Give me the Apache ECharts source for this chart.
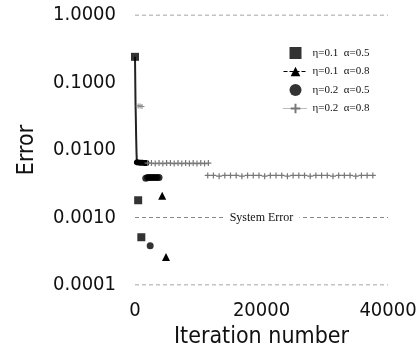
<!DOCTYPE html>
<html><head><meta charset="utf-8">
<script src="https://cdn.jsdelivr.net/npm/echarts@6/dist/echarts.min.js"></script>
<style>html,body{margin:0;padding:0;background:#fff}#c{width:420px;height:356px}</style>
</head><body><div id="c"></div>
<script>
// Tick labels
var xTicks = [0, 20000, 40000];
var yTicks = [1, 0.1, 0.01, 0.001, 0.0001];
var seriesNames = ['η=0.1  α=0.5', 'η=0.1  α=0.8', 'η=0.2  α=0.5', 'η=0.2  α=0.8'];
var systemError = 0.001;
var systemErrorLabel = 'System Error';
// horizontal reference lines (top / bottom frame)
var refLevels = [1, 0.0001];

// η=0.1 α=0.5 (squares) and its steep decay
var squareX = [0, 500, 1000];
var squareY = [0.24, 0.0018, 0.00051];
var decayX = [0, 40, 80, 130, 180, 240, 300];
var decayY = [0.24, 0.11, 0.05, 0.03, 0.016, 0.009, 0.0066];
// η=0.1 α=0.8 (triangles)
var triX = [4300, 4900];
var triY = [0.0021, 0.00026];
// η=0.2 α=0.5 (circles)
var circX = [1700, 2000, 2300, 2600, 2900, 3200, 3500, 3800, 2400];
var circY = [0.0038, 0.0039, 0.0039, 0.0039, 0.0039, 0.0039, 0.0039, 0.0039, 0.00038];
// dense dark run near 0.0065
var blobX = [300, 700, 1100, 1500, 1800];
var blobY = [0.0066, 0.0065, 0.0065, 0.0064, 0.0064];
// η=0.2 α=0.8 (plus markers)
var plus1X = [2000, 2600, 3200, 3800, 4400, 5000, 5600, 6200, 6800, 7400, 8000, 8600, 9200, 9800, 10400, 11000, 11600];
var plus1Y = [0.0064, 0.0064, 0.0063, 0.0064, 0.0063, 0.0064, 0.0064, 0.0063, 0.0064, 0.0063, 0.0064, 0.0063, 0.0064, 0.0063, 0.0064, 0.0063, 0.0064];
var plus2X = [11500, 12400, 13300, 14200, 15100, 16000, 16900, 17800, 18700, 19600, 20500, 21400, 22300, 23200, 24100, 25000, 25900, 26800, 27700, 28600, 29500, 30400, 31300, 32200, 33100, 34000, 34900, 35800, 36700, 37600];
var plus2Y = [0.0042, 0.0042, 0.0041, 0.0042, 0.0042, 0.0042, 0.0041, 0.0042, 0.0042, 0.0042, 0.0041, 0.0042, 0.0042, 0.0042, 0.0041, 0.0042, 0.0042, 0.0042, 0.0041, 0.0042, 0.0042, 0.0042, 0.0041, 0.0042, 0.0042, 0.0042, 0.0041, 0.0042, 0.0042, 0.0042];
var plus3X = [500, 800, 1100];
var plus3Y = [0.045, 0.045, 0.044];

function pairs(xs, ys) { return xs.map(function (x, i) { return [x, ys[i]]; }); }
var plusPath = 'path://M4,0h2v4h4v2h-4v4h-2v-4h-4v-2h4z';
var squarePath = 'path://M0,0h10v10h-10z';
var narrow = '"DejaVu Sans Condensed", "Liberation Sans Narrow", "Liberation Sans", sans-serif';
var serif = '"Liberation Serif", "DejaVu Serif", serif';
var dash = { color: '#888', type: [4, 3], width: 1 };

var refSeries = refLevels.map(function (lv) {
  return { name: 'ref' + lv, type: 'line', symbol: 'none', silent: true,
    data: [[xTicks[0], lv], [xTicks[2], lv]], lineStyle: dash, z: 1 };
});

var chart = echarts.init(document.getElementById('c'));
chart.setOption({
  animation: false,
  backgroundColor: '#fff',
  grid: { left: 135, right: 32, top: 15, bottom: 71 },
  legend: {
    orient: 'vertical', left: 278, top: 42, itemGap: 7, itemWidth: 24, itemHeight: 12,
    symbolKeepAspect: true,
    textStyle: { fontFamily: serif, fontSize: 11, color: '#111' },
    data: [
      { name: seriesNames[0], icon: squarePath },
      { name: seriesNames[1], lineStyle: { width: 1, type: 'dashed', color: '#000' } },
      { name: seriesNames[2], icon: 'circle' },
      { name: seriesNames[3], lineStyle: { width: 1, type: 'dotted', color: '#777' } }
    ]
  },
  xAxis: {
    type: 'value', min: xTicks[0], max: xTicks[2], interval: xTicks[1] - xTicks[0],
    name: 'Iteration number', nameLocation: 'middle', nameGap: 38,
    nameTextStyle: { fontFamily: narrow, fontSize: 23, color: '#111' },
    axisLine: { show: false }, axisTick: { show: false }, splitLine: { show: false },
    axisLabel: { margin: 16, fontFamily: narrow, fontSize: 20, color: '#111',
      formatter: function (v) { return String(v); } }
  },
  yAxis: {
    type: 'log', logBase: 10, min: yTicks[4], max: yTicks[0],
    name: 'Error', nameLocation: 'middle', nameGap: 96,
    nameTextStyle: { fontFamily: narrow, fontSize: 23, color: '#111' },
    axisLine: { show: false }, axisTick: { show: false }, splitLine: { show: false },
    axisLabel: { margin: 19, fontFamily: narrow, fontSize: 20, color: '#111',
      formatter: function (v) { return Number(v).toFixed(4); } }
  },
  series: refSeries.concat([
    { name: 'systemError', type: 'line', symbol: 'none', silent: true,
      data: [[xTicks[0], systemError], [xTicks[2], systemError]], lineStyle: dash, z: 1,
      markPoint: { silent: true, symbol: 'rect', symbolSize: [76, 14],
        itemStyle: { color: '#fff' },
        label: { show: true, position: 'inside', formatter: systemErrorLabel,
          fontFamily: serif, fontSize: 12, color: '#111' },
        data: [{ coord: [xTicks[1], systemError] }] } },
    { name: seriesNames[0], type: 'scatter', symbol: 'rect', symbolSize: 8,
      itemStyle: { color: '#000' }, data: pairs(squareX, squareY), z: 5 },
    { name: 'decay', type: 'line', symbol: 'none', data: pairs(decayX, decayY),
      lineStyle: { color: '#222', width: 2 } },
    { name: seriesNames[1], type: 'line', symbol: 'triangle', symbolSize: 8,
      itemStyle: { color: '#000' }, lineStyle: { width: 0, color: '#000', type: 'dashed' },
      data: pairs(triX, triY), z: 5 },
    { name: seriesNames[2], type: 'scatter', symbol: 'circle', symbolSize: 7,
      itemStyle: { color: '#000' }, data: pairs(circX, circY), z: 5 },
    { name: 'blob', type: 'line', symbol: 'none', data: pairs(blobX, blobY),
      lineStyle: { color: '#000', width: 6, cap: 'round' } },
    { name: seriesNames[3], type: 'line', symbol: plusPath, symbolSize: 6,
      itemStyle: { color: '#777' }, lineStyle: { width: 0, color: '#777', type: 'dotted' },
      data: pairs(plus1X, plus1Y) },
    { name: seriesNames[3], type: 'line', symbol: plusPath, symbolSize: 6,
      itemStyle: { color: '#777' }, lineStyle: { width: 0, color: '#777' },
      data: pairs(plus2X, plus2Y) },
    { name: seriesNames[3], type: 'line', symbol: plusPath, symbolSize: 5,
      itemStyle: { color: '#888' }, lineStyle: { width: 0 },
      data: pairs(plus3X, plus3Y) }
  ])
});
</script></body></html>
